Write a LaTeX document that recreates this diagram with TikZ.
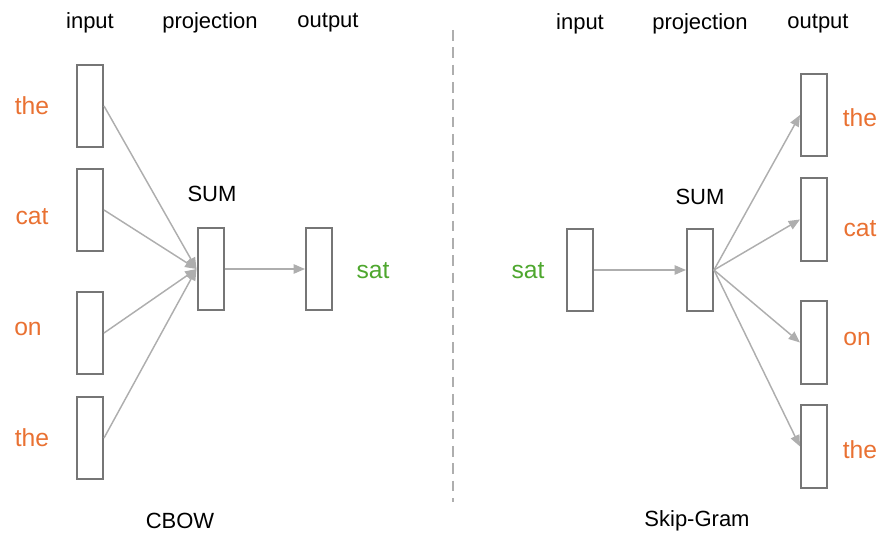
\documentclass[tikz,border=0pt]{standalone}
\usepackage{fontspec}
\setmainfont{Liberation Sans}
\usetikzlibrary{arrows.meta}
\definecolor{wordorange}{HTML}{E97132}
\definecolor{wordgreen}{HTML}{4EA72E}
\definecolor{boxgray}{HTML}{767676}
\definecolor{linkgray}{HTML}{AEAEAE}
\tikzset{
  % node styles (word vectors, labels)
  vect/.style={rectangle,draw=boxgray,line width=1.5pt,fill=white,inner sep=0pt,
    minimum width=19.5pt,minimum height=62pt},
  ctxword/.style={text=wordorange,font=\fontsize{18.5}{21}\selectfont},
  target/.style={text=wordgreen,font=\fontsize{18.5}{21}\selectfont},
  header/.style={font=\fontsize{16.5}{19}\selectfont},
  void/.style={inner sep=0pt,minimum size=0pt},
  % connector styles
  link/.style={draw=linkgray,line width=1.1pt,-{Triangle[length=8.5pt,width=7pt]}},
  divider/.style={draw=linkgray,line width=1.1pt,dash pattern=on 8pt off 5pt},
}
\begin{document}
\begin{tikzpicture}[x=0.75pt,y=-0.75pt]
  \useasboundingbox (0,0) rectangle (889,541);
  % CBOW
  \node[header] (inL) at (90,23) {input};
  \node[header] (projL) at (210,23) {projection};
  \node[header] (outL) at (328,23) {output};
  \node[vect] (c1) at (90,106) {};
  \node[vect] (c2) at (90,210) {};
  \node[vect] (c3) at (90,333) {};
  \node[vect] (c4) at (90,438) {};
  \node[ctxword] (w1) at (32,106) {the};
  \node[ctxword] (w2) at (32,217) {cat};
  \node[ctxword] (w3) at (28,329) {on};
  \node[ctxword] (w4) at (32,438) {the};
  \node[vect] (sumL) at (210.5,269) {};
  \node[header] at (212,194) {SUM};
  \node[vect] (oL) at (319,269) {};
  \node[target] (satL) at (373,271) {sat};
  \draw[link] (c1.east) -- (sumL.west);
  \draw[link] (c2.east) -- (sumL.west);
  \draw[link] (c3.east) -- (sumL.west);
  \draw[link] (c4.east) -- (sumL.west);
  \draw[link] (sumL.east) -- (oL.west);
  \node[header] (cbow) at (180,521) {CBOW};
  % divider
  \coordinate (top) at (453,30);
  \coordinate (bot) at (453,502);
  \draw[divider] (top) -- (bot);
  % Skip-Gram
  \node[header] (inR) at (580,24) {input};
  \node[header] (projR) at (700,24) {projection};
  \node[header] (outR) at (818,24) {output};
  \node[target] (satR) at (528,271) {sat};
  \node[vect] (iR) at (580,270) {};
  \node[vect] (sumR) at (700,270) {};
  \node[header] at (700,197) {SUM};
  \node[vect] (s1) at (814,115) {};
  \node[vect] (s2) at (814,219.5) {};
  \node[vect] (s3) at (814,342.5) {};
  \node[vect] (s4) at (814,446.5) {};
  \node[ctxword] (v1) at (860,118) {the};
  \node[ctxword] (v2) at (860,229) {cat};
  \node[ctxword] (v3) at (857,339) {on};
  \node[ctxword] (v4) at (860,450) {the};
  \draw[link] (iR.east) -- (sumR.west);
  \draw[link] (sumR.east) -- (s1.west);
  \draw[link] (sumR.east) -- (s2.west);
  \draw[link] (sumR.east) -- (s3.west);
  \draw[link] (sumR.east) -- (s4.west);
  \node[header] (skip) at (697,521) {Skip-Gram};
\end{tikzpicture}
\end{document}
